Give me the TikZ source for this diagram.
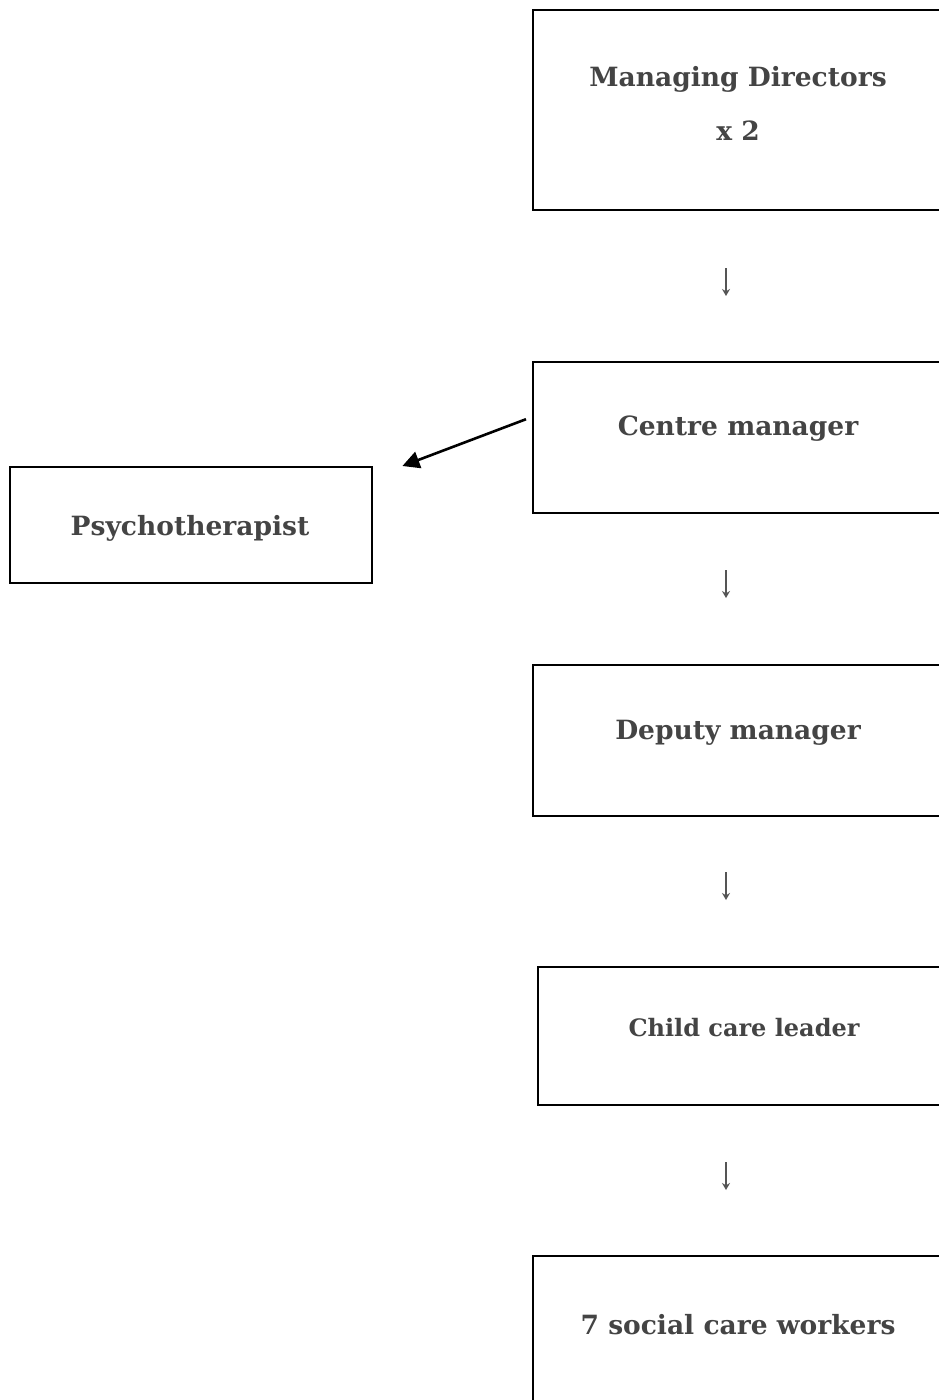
\documentclass[tikz,border=0pt]{standalone}
\usepackage{fontspec}
\setmainfont{DejaVu Serif}
\usetikzlibrary{arrows.meta,calc}
\definecolor{txt}{HTML}{444444}
\definecolor{arr}{HTML}{555555}
\begin{document}
\begin{tikzpicture}[x=1pt,y=-1pt,
  box/.style={draw=black,line width=2.4pt,inner sep=0pt,anchor=north west},
  lbl/.style={text=txt,font=\bfseries\fontsize{26.5}{54}\selectfont,align=center,inner sep=0pt},
  slbl/.style={text=txt,font=\bfseries\fontsize{24}{30}\selectfont,align=center,inner sep=0pt},
  darrow/.style={draw=arr,line width=1.1pt,-{Stealth[length=7pt,width=8pt]}},
  diag/.style={draw=black,line width=2.6pt,-{Triangle[length=17pt,width=17pt]}}]
\useasboundingbox (0,0) rectangle (938,1400);
% boxes
\node[box,minimum width=412pt,minimum height=200pt] (md) at (532,9) {};
\node[box,minimum width=412pt,minimum height=151pt] (cm) at (532,361) {};
\node[box,minimum width=362pt,minimum height=116pt] (psy) at (9,466) {};
\node[box,minimum width=412pt,minimum height=151pt] (dm) at (532,664) {};
\node[box,minimum width=407pt,minimum height=138pt] (ccl) at (537,966) {};
\node[box,minimum width=412pt,minimum height=200pt] (scw) at (532,1255) {};
% labels
\node[lbl] (mdt) at (738,103) {Managing Directors\\x 2};
\node[lbl] (cmt) at (738,429) {Centre manager};
\node[lbl] (psyt) at (190,528) {Psychotherapist};
\node[lbl] (dmt) at (738,733) {Deputy manager};
\node[slbl] (cclt) at (744,1028) {Child care leader};
\node[lbl] (scwt) at (738,1325) {7 social care workers};
% down arrows
\coordinate (a1s) at (726,268); \coordinate (a1e) at (726,296);
\coordinate (a2s) at (726,570); \coordinate (a2e) at (726,598);
\coordinate (a3s) at (726,872); \coordinate (a3e) at (726,900);
\coordinate (a4s) at (726,1162); \coordinate (a4e) at (726,1190);
\draw[darrow] (a1s) -- (a1e);
\draw[darrow] (a2s) -- (a2e);
\draw[darrow] (a3s) -- (a3e);
\draw[darrow] (a4s) -- (a4e);
% diagonal arrow
\draw[diag] ($(cm.west)+(-6,-18.5)$) -- ($(psy.north east)+(29,0)$);
\end{tikzpicture}
\end{document}
